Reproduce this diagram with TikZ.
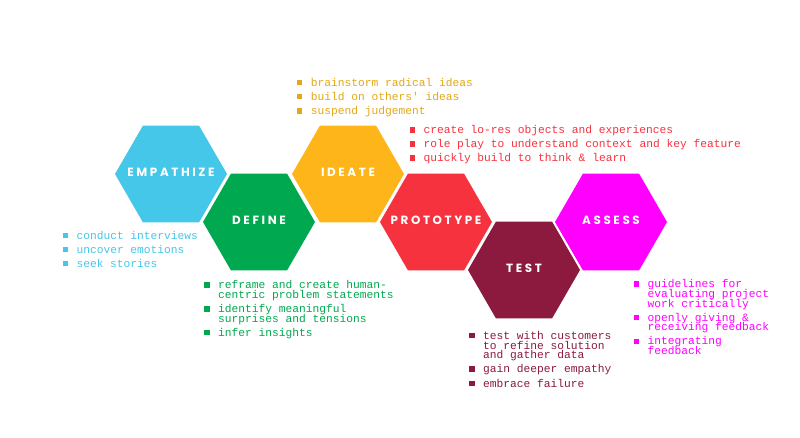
\documentclass[tikz,border=0pt]{standalone}
\usepackage{fontspec}
\usetikzlibrary{shapes.geometric}
\newfontfamily\hexfont{Poppins}[LetterSpace=22]
\newfontfamily\listfont{Liberation Mono}
\definecolor{empcol}{HTML}{45C7E9}
\definecolor{defcol}{HTML}{00A94F}
\definecolor{ideacol}{HTML}{FDB51A}
\definecolor{idealist}{HTML}{E2A817}
\definecolor{protocol}{HTML}{F7323F}
\definecolor{testcol}{HTML}{8B1A3E}
\definecolor{asscol}{HTML}{FF00FF}
\newcommand\listsetup{\listfont\fontsize{11.25}{9.7}\selectfont\lineskiplimit=-20pt\setlength{\parskip}{4.4pt}}
% one bulleted item; word spaces kept at the full fixed-pitch cell width
\newcommand\bitem[1]{\par\spaceskip=0.6em\relax\xspaceskip=0.6em\relax
  \noindent\hangindent=14pt\hangafter=1\makebox[14pt][l]{\rule[1pt]{5.5pt}{5.5pt}}#1\par}
\tikzset{
  hexa/.style={regular polygon, regular polygon sides=6, minimum size=112pt, inner sep=0pt, draw=none, fill=#1},
  hexlabel/.style={text=white, inner sep=0pt, yshift=1.5pt, font=\hexfont\bfseries\fontsize{11.9}{12}\selectfont},
  blist/.style={anchor=base west, inner sep=0pt, yshift=13.7pt, text width=440pt, align=left, text=#1, font=\listsetup},
}
\begin{document}
\begin{tikzpicture}[x=1pt,y=-1pt]
\useasboundingbox (0,0) rectangle (800,438);
\fill[white] (0,0) rectangle (800,438);

% hexagons of the design thinking cycle
\node[hexa=empcol, label={[hexlabel]center:EMPATHIZE}] (empathize) at (171,174) {};
\node[hexa=defcol, label={[hexlabel]center:DEFINE}] (define) at (259,222) {};
\node[hexa=ideacol, label={[hexlabel]center:IDEATE}] (ideate) at (348,174) {};
\node[hexa=protocol, label={[hexlabel]center:PROTOTYPE}] (prototype) at (436,222) {};
\node[hexa=testcol, label={[hexlabel]center:TEST}] (test) at (524,270) {};
\node[hexa=asscol, label={[hexlabel]center:ASSESS}] (assess) at (611,222) {};

% activity lists
\node[blist=empcol] (emplist) at (62.3,238.7) {%
  \bitem{conduct interviews}\bitem{uncover emotions}\bitem{seek stories}};
\node[blist=idealist] (idealist) at (296.7,86) {%
  \bitem{brainstorm radical ideas}\bitem{build on others' ideas}\bitem{suspend judgement}};
\node[blist=protocol] (protolist) at (409.3,133.3) {%
  \bitem{create lo-res objects and experiences}\bitem{role play to understand context and key feature}\bitem{quickly build to think \& learn}};
\node[blist=defcol] (deflist) at (204,288.3) {%
  \bitem{reframe and create human-\newline centric problem statements}\bitem{identify meaningful\newline surprises and tensions}\bitem{infer insights}};
\node[blist=testcol] (testlist) at (469,339) {%
  \bitem{test with customers\newline to refine solution\newline and gather data}\bitem{gain deeper empathy}\bitem{embrace failure}};
\node[blist=asscol] (asslist) at (633.5,287.3) {%
  \bitem{guidelines for\newline evaluating project\newline work critically}\bitem{openly giving \&\newline receiving feedback}\bitem{integrating\newline feedback}};
\end{tikzpicture}
\end{document}
